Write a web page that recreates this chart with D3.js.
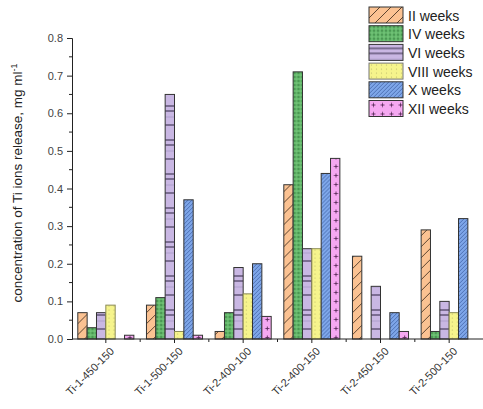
<!DOCTYPE html>
<html>
<head>
<meta charset="utf-8">
<script src="https://cdn.jsdelivr.net/npm/d3@7"></script>
<style>
  html, body { margin: 0; padding: 0; background: #fff; }
  svg { display: block; font-family: "Liberation Sans", Arial, sans-serif; }
</style>
</head>
<body>
<svg id="chart" width="483" height="409"></svg>
<script>
// Samples and release periods
const samples = ["Ti-1-450-150", "Ti-1-500-150", "Ti-2-400-100", "Ti-2-400-150", "Ti-2-450-150", "Ti-2-500-150"];
const periods = ["II weeks", "IV weeks", "VI weeks", "VIII weeks", "X weeks", "XII weeks"];

// Ti ion concentration per period (mg/ml), one value per sample
const weeksII   = [0.07, 0.09, 0.02, 0.41, 0.22, 0.29];
const weeksIV   = [0.03, 0.11, 0.07, 0.71, 0.00, 0.02];
const weeksVI   = [0.07, 0.65, 0.19, 0.24, 0.14, 0.10];
const weeksVIII = [0.09, 0.02, 0.12, 0.24, 0.00, 0.07];
const weeksX    = [0.00, 0.37, 0.20, 0.44, 0.07, 0.32];
const weeksXII  = [0.01, 0.01, 0.06, 0.48, 0.02, 0.00];

const yTicks = [0.0, 0.1, 0.2, 0.3, 0.4, 0.5, 0.6, 0.7, 0.8];

const seriesValues = [weeksII, weeksIV, weeksVI, weeksVIII, weeksX, weeksXII];

const svg = d3.select("#chart");

// ---- fill patterns, one per period ----
const defs = svg.append("defs");

function pat(id, w, h, bg, draw) {
  const p = defs.append("pattern")
    .attr("id", id).attr("patternUnits", "userSpaceOnUse")
    .attr("width", w).attr("height", h);
  p.append("rect").attr("width", w).attr("height", h).attr("fill", bg);
  draw(p);
}

// II: light orange with sparse diagonal hatching
pat("p0", 11, 11, "#fbc292", p => {
  p.append("path").attr("d", "M-1,12 L12,-1 M-6,6 L6,-6 M5,17 L17,5")
    .attr("stroke", "#4a3525").attr("stroke-width", 0.9);
});
// IV: green with dense dotted texture
pat("p1", 4, 4, "#63b86a", p => {
  p.append("circle").attr("cx", 1).attr("cy", 1).attr("r", 0.8).attr("fill", "#2d6e35");
  p.append("circle").attr("cx", 3).attr("cy", 3).attr("r", 0.6).attr("fill", "#9bd89d");
});
// VI: lavender with irregular horizontal rules
pat("p2", 10, 34, "#c9b7e3", p => {
  [4, 9, 23].forEach(yy => p.append("line").attr("x1", 0).attr("x2", 10)
    .attr("y1", yy).attr("y2", yy).attr("stroke", "#3a3050").attr("stroke-width", 1.1));
  p.append("line").attr("x1", 0).attr("x2", 10).attr("y1", 15).attr("y2", 15)
    .attr("stroke", "#a898c8").attr("stroke-width", 0.8);
});
// VIII: pale yellow with faint dotted columns
pat("p3", 5, 4, "#f6f48c", p => {
  p.append("circle").attr("cx", 2.5).attr("cy", 2).attr("r", 0.6).attr("fill", "#b9b86a");
});
// X: blue with dense diagonal hatching
pat("p4", 4, 4, "#7ea6e9", p => {
  p.append("path").attr("d", "M-1,5 L5,-1 M-1,1 L1,-1 M3,5 L5,3")
    .attr("stroke", "#3a5a9e").attr("stroke-width", 0.7);
});
// XII: pink with small crosses
pat("p5", 9, 9, "#f5a8f1", p => {
  p.append("path").attr("d", "M4.5,2.5 L4.5,6.5 M2.5,4.5 L6.5,4.5")
    .attr("stroke", "#5a2a5a").attr("stroke-width", 0.9);
});

const strokes = ["#333", "#333", "#333", "#8a8a55", "#333", "#333"];

// ---- scales ----
const y = d3.scaleLinear().domain([0, 0.8]).range([339, 38]);
const x0 = d3.scaleBand().domain(samples).range([71.5, 483.5]).padding(0);
const x1 = d3.scaleBand().domain(periods).range([6.3, x0.bandwidth() - 6.3]).padding(0);

// ---- bars ----
const groups = svg.append("g").selectAll("g")
  .data(samples).join("g")
  .attr("transform", d => `translate(${x0(d)},0)`);

groups.selectAll("rect")
  .data((s, i) => periods.map((p, k) => ({ period: p, k, v: seriesValues[k][i] })).filter(d => d.v > 0))
  .join("rect")
  .attr("x", d => x1(d.period))
  .attr("width", x1.bandwidth())
  .attr("y", d => y(d.v))
  .attr("height", d => y(0) - y(d.v))
  .attr("fill", d => `url(#p${d.k})`)
  .attr("stroke", d => strokes[d.k])
  .attr("stroke-width", 1);

// ---- y axis ----
const yAxis = d3.axisLeft(y).tickValues(yTicks).tickFormat(d3.format(".1f")).tickSize(5).tickPadding(4);
const gy = svg.append("g").attr("transform", "translate(72,0)").call(yAxis);
gy.select(".domain").attr("stroke", "#222");
gy.selectAll(".tick line").attr("stroke", "#222");
gy.selectAll(".tick text").attr("font-size", 11).attr("fill", "#444")
  .attr("font-family", "Liberation Sans, Arial, sans-serif");
// minor ticks
const minor = d3.range(0.05, 0.8, 0.1);
gy.selectAll(".minor").data(minor).join("line").attr("class", "minor")
  .attr("x1", -3).attr("x2", 0).attr("y1", d => y(d)).attr("y2", d => y(d)).attr("stroke", "#222");

// ---- x axis ----
const gx = svg.append("g");
gx.append("line").attr("x1", 72).attr("x2", 483).attr("y1", y(0)).attr("y2", y(0)).attr("stroke", "#222");
gx.selectAll(".maj").data(samples).join("line").attr("class", "maj")
  .attr("x1", d => x0(d) + x0.bandwidth() / 2).attr("x2", d => x0(d) + x0.bandwidth() / 2)
  .attr("y1", y(0)).attr("y2", y(0) + 4).attr("stroke", "#222");
gx.selectAll(".mnr").data(samples.slice(1)).join("line").attr("class", "mnr")
  .attr("x1", d => x0(d)).attr("x2", d => x0(d))
  .attr("y1", y(0)).attr("y2", y(0) + 3).attr("stroke", "#222");
gx.selectAll("text").data(samples).join("text")
  .attr("text-anchor", "end")
  .attr("font-size", 11)
  .attr("fill", "#333")
  .attr("transform", d => `translate(${x0(d) + x0.bandwidth() / 2 + 9},${y(0) + 13}) rotate(-45)`)
  .text(d => d);

// ---- y axis title ----
const title = svg.append("text")
  .attr("transform", "translate(22,183) rotate(-90)")
  .attr("text-anchor", "middle")
  .attr("font-size", 13.5)
  .attr("fill", "#222");
title.append("tspan").text("concentration of Ti ions release, mg ml");
title.append("tspan").attr("font-size", 9).attr("dy", -5).text("-1");

// ---- legend ----
const legend = svg.append("g").attr("transform", "translate(369,7)");
const li = legend.selectAll("g").data(periods).join("g")
  .attr("transform", (d, i) => `translate(0,${i * 18.7})`);
li.append("rect").attr("width", 34).attr("height", 16)
  .attr("fill", (d, i) => `url(#p${i})`).attr("stroke", (d, i) => strokes[i] === "#333" ? "#333" : "#777");
li.append("text").attr("x", 39).attr("y", 13.5).attr("font-size", 14).attr("fill", "#222").text(d => d);
</script>
</body>
</html>
